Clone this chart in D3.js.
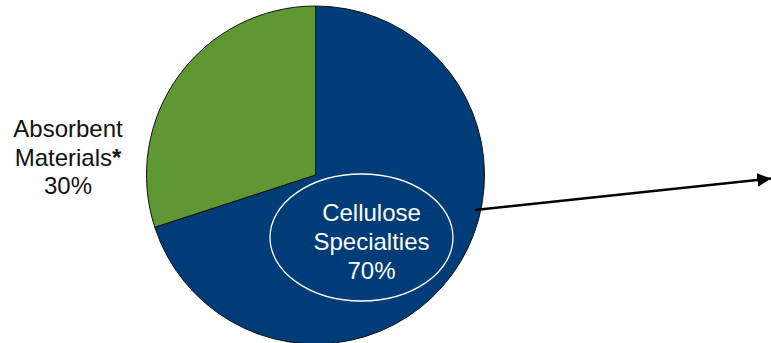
<!DOCTYPE html>
<html>
<head>
<meta charset="utf-8">
<script src="https://cdn.jsdelivr.net/npm/d3@7"></script>
<style>
  html, body { margin: 0; padding: 0; background: #fff; }
  svg { display: block; font-family: "Liberation Sans", Arial, sans-serif; }
</style>
</head>
<body>
<svg id="chart" width="771" height="343"></svg>
<script>
// Segment shares (percent)
const categories = ["Cellulose Specialties", "Absorbent Materials*"];
const shares = [70, 30];
const colors = ["#003c77", "#5f9733"];

const svg = d3.select("#chart");
const cx = 315.5, cy = 175, r = 169;

const pie = d3.pie().sort(null).value(d => d)(shares);
const arc = d3.arc().innerRadius(0).outerRadius(r);

const g = svg.append("g").attr("transform", `translate(${cx},${cy})`);
g.selectAll("path")
  .data(pie)
  .join("path")
  .attr("d", arc)
  .attr("fill", (d, i) => colors[i])
  .attr("stroke", "#111")
  .attr("stroke-width", 1);

// Callout ellipse inside the large slice
svg.append("ellipse")
  .attr("cx", 361.5).attr("cy", 237.5)
  .attr("rx", 91.5).attr("ry", 63.5)
  .attr("fill", "none")
  .attr("stroke", "#ffffff")
  .attr("stroke-width", 1.3);

const pct = d => `${d}%`;

// Label inside the ellipse
const inner = svg.append("text")
  .attr("text-anchor", "middle")
  .attr("fill", "#ffffff")
  .style("font-size", "24px");
["Cellulose", "Specialties", pct(shares[0])].forEach((t, i) => {
  inner.append("tspan").attr("x", 371.5).attr("y", 221 + i * 29).text(t);
});

// Label outside, left of the pie
const outer = svg.append("text")
  .attr("text-anchor", "middle")
  .attr("fill", "#111")
  .style("font-size", "24px");
outer.append("tspan").attr("x", 68).attr("y", 137).text("Absorbent");
const l2 = outer.append("tspan").attr("x", 68).attr("y", 165.5);
l2.append("tspan").text("Materials");
l2.append("tspan").attr("font-weight", "bold").text("*");
outer.append("tspan").attr("x", 68).attr("y", 194).text(pct(shares[1]));

// Arrow leading off to the right
const defs = svg.append("defs");
defs.append("marker")
  .attr("id", "head")
  .attr("viewBox", "0 0 10 10")
  .attr("refX", 10).attr("refY", 5)
  .attr("markerWidth", 5.5).attr("markerHeight", 5.5)
  .attr("markerUnits", "strokeWidth")
  .attr("orient", "auto")
  .append("path")
  .attr("d", "M0,0 L10,5 L0,10 Z")
  .attr("fill", "#000");

svg.append("line")
  .attr("x1", 475).attr("y1", 210)
  .attr("x2", 771).attr("y2", 178.5)
  .attr("stroke", "#000")
  .attr("stroke-width", 2.5)
  .attr("marker-end", "url(#head)");
</script>
</body>
</html>
